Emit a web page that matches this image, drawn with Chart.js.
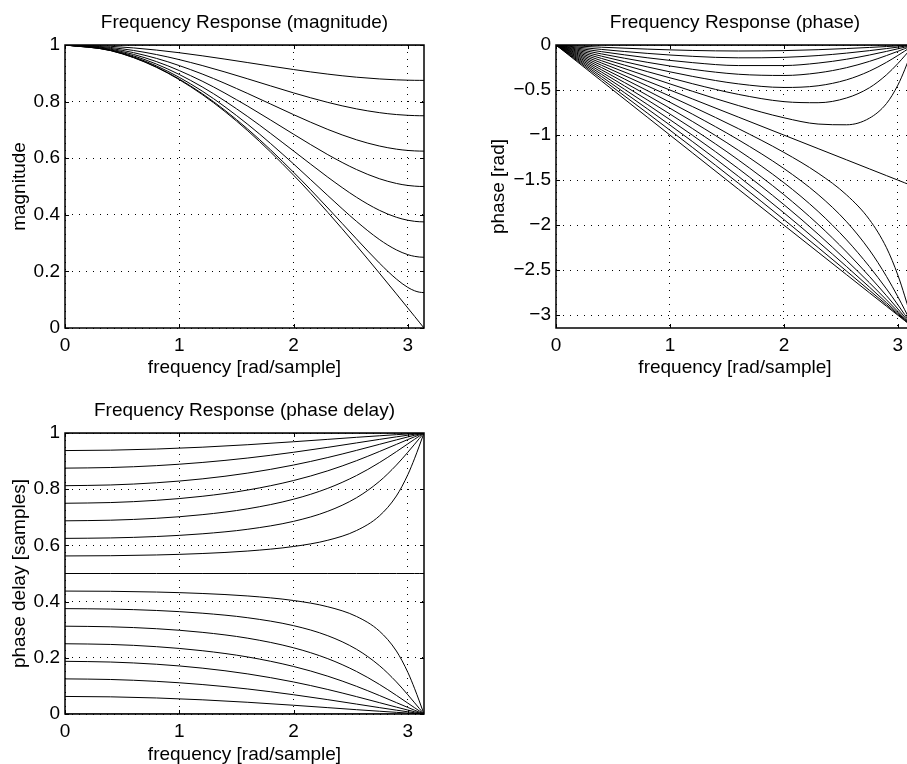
<!DOCTYPE html>
<html>
<head>
<meta charset="utf-8">
<script src="https://cdn.jsdelivr.net/npm/chart.js@4.4.1/dist/chart.umd.min.js"></script>
<style>
html, body { margin: 0; padding: 0; background: #fff; overflow: hidden; }
#wrap { position: relative; width: 907px; height: 764px; overflow: hidden; }
canvas { position: absolute; }
</style>
</head>
<body>
<div id="wrap">
  <canvas id="mag" width="450" height="385" style="left:0px;top:0px"></canvas>
  <canvas id="phase" width="470" height="385" style="left:470px;top:0px"></canvas>
  <canvas id="pdelay" width="450" height="385" style="left:0px;top:388px"></canvas>
</div>
<script>
// frequency samples (rad/sample)
const freq = [0, 0.4, 0.8, 1.2, 1.6, 2.0, 2.3, 2.55, 2.75, 2.9, 3.0, 3.06, 3.1, 3.1416];

const xTicks = [0, 1, 2, 3];
const magTicks = [0, 0.2, 0.4, 0.6, 0.8, 1];
const phaseTicks = [-3, -2.5, -2, -1.5, -1, -0.5, 0];
const delayTicks = [0, 0.2, 0.4, 0.6, 0.8, 1];

// magnitude curves, one per fractional delay
const magCurves = [
  [1, 1, 1, 1, 1, 1, 1, 1, 1, 1, 1, 1, 1, 1],
  [1, 0.9954, 0.9821, 0.9619, 0.9378, 0.9133, 0.8971, 0.8863, 0.8801, 0.8769, 0.8757, 0.8752, 0.8751, 0.875],
  [1, 0.9913, 0.9663, 0.9276, 0.8803, 0.8308, 0.7972, 0.7744, 0.7610, 0.7542, 0.7515, 0.7505, 0.7501, 0.75],
  [1, 0.9879, 0.9527, 0.8976, 0.8285, 0.7540, 0.7016, 0.6651, 0.6432, 0.6320, 0.6274, 0.6258, 0.6252, 0.625],
  [1, 0.9851, 0.9414, 0.8723, 0.7836, 0.6848, 0.6125, 0.5601, 0.5276, 0.5108, 0.5037, 0.5013, 0.5003, 0.5],
  [1, 0.9829, 0.9326, 0.8521, 0.7468, 0.6257, 0.5329, 0.4622, 0.4161, 0.3913, 0.3807, 0.3769, 0.3755, 0.375],
  [1, 0.9813, 0.9262, 0.8373, 0.7194, 0.5798, 0.4679, 0.3771, 0.3130, 0.2759, 0.2592, 0.2531, 0.2508, 0.25],
  [1, 0.9804, 0.9224, 0.8283, 0.7025, 0.5504, 0.4241, 0.3151, 0.2300, 0.1730, 0.1434, 0.1314, 0.1267, 0.125],
  [1, 0.9801, 0.9211, 0.8253, 0.6967, 0.5403, 0.4085, 0.2915, 0.1945, 0.1205, 0.0707, 0.0408, 0.0208, 0]
];

// phase curves (rad)
const phaseCurves = [
  [0, 0, 0, 0, 0, 0, 0, 0, 0, 0, 0, 0, 0, 0],
  [0, -0.0245, -0.0457, -0.0606, -0.0667, -0.0623, -0.0520, -0.0393, -0.0271, -0.0171, -0.0101, -0.0058, -0.0030, 0],
  [0, -0.0491, -0.0929, -0.1259, -0.1424, -0.1372, -0.1172, -0.0901, -0.0627, -0.0397, -0.0235, -0.0136, -0.0069, 0],
  [0, -0.0740, -0.1417, -0.1959, -0.2282, -0.2281, -0.2006, -0.1579, -0.1115, -0.0710, -0.0422, -0.0244, -0.0125, 0],
  [0, -0.0990, -0.1917, -0.2704, -0.3246, -0.3384, -0.3093, -0.2516, -0.1818, -0.1174, -0.0701, -0.0407, -0.0208, 0],
  [0, -0.1241, -0.2428, -0.3489, -0.4315, -0.4714, -0.4526, -0.3866, -0.2907, -0.1923, -0.1161, -0.0676, -0.0346, 0],
  [0, -0.1494, -0.2947, -0.4306, -0.5481, -0.6287, -0.6406, -0.5880, -0.4749, -0.3312, -0.2056, -0.1211, -0.0622, 0],
  [0, -0.1747, -0.3472, -0.5147, -0.6720, -0.8077, -0.8776, -0.8857, -0.8126, -0.6499, -0.4452, -0.2748, -0.1441, 0],
  [0, -0.2, -0.4, -0.6, -0.8, -1.0, -1.15, -1.275, -1.375, -1.45, -1.5, -1.53, -1.55, -1.5708],
  [0, -0.2253, -0.4528, -0.6853, -0.9280, -1.1923, -1.4224, -1.6643, -1.9374, -2.2501, -2.5548, -2.7852, -2.9559, -3.1416],
  [0, -0.2506, -0.5053, -0.7694, -1.0519, -1.3713, -1.6594, -1.9620, -2.2751, -2.5688, -2.7944, -2.9389, -3.0378, -3.1416],
  [0, -0.2759, -0.5572, -0.8511, -1.1685, -1.5286, -1.8474, -2.1634, -2.4593, -2.7077, -2.8839, -2.9924, -3.0654, -3.1416],
  [0, -0.3010, -0.6083, -0.9296, -1.2754, -1.6616, -1.9907, -2.2984, -2.5682, -2.7826, -2.9299, -3.0193, -3.0792, -3.1416],
  [0, -0.3260, -0.6583, -1.0041, -1.3718, -1.7719, -2.0994, -2.3921, -2.6385, -2.8290, -2.9578, -3.0356, -3.0875, -3.1416],
  [0, -0.3509, -0.7071, -1.0741, -1.4576, -1.8628, -2.1828, -2.4599, -2.6873, -2.8603, -2.9765, -3.0464, -3.0931, -3.1416],
  [0, -0.3755, -0.7543, -1.1394, -1.5333, -1.9377, -2.2480, -2.5107, -2.7229, -2.8829, -2.9899, -3.0542, -3.0970, -3.1416],
  [0, -0.4, -0.8, -1.2, -1.6, -2.0, -2.3, -2.55, -2.75, -2.9, -3.0, -3.06, -3.1, -3.1416]
];

// phase delay curves (samples)
const delayCurves = [
  [0, 0, 0, 0, 0, 0, 0, 0, 0, 0, 0, 0, 0, 0],
  [0.0625, 0.0611, 0.0571, 0.0505, 0.0417, 0.0311, 0.0226, 0.0154, 0.0099, 0.0059, 0.0034, 0.0019, 0.0010, 0],
  [0.125, 0.1228, 0.1162, 0.1049, 0.0890, 0.0686, 0.0510, 0.0354, 0.0228, 0.0137, 0.0078, 0.0044, 0.0022, 0],
  [0.1875, 0.1849, 0.1771, 0.1633, 0.1426, 0.1140, 0.0872, 0.0619, 0.0405, 0.0245, 0.0141, 0.0080, 0.0040, 0],
  [0.25, 0.2475, 0.2396, 0.2253, 0.2029, 0.1692, 0.1345, 0.0987, 0.0661, 0.0405, 0.0234, 0.0133, 0.0067, 0],
  [0.3125, 0.3103, 0.3035, 0.2907, 0.2697, 0.2357, 0.1968, 0.1516, 0.1057, 0.0663, 0.0387, 0.0221, 0.0112, 0],
  [0.375, 0.3734, 0.3684, 0.3588, 0.3425, 0.3144, 0.2785, 0.2306, 0.1727, 0.1142, 0.0685, 0.0396, 0.0201, 0],
  [0.4375, 0.4367, 0.4340, 0.4289, 0.4200, 0.4039, 0.3816, 0.3473, 0.2955, 0.2241, 0.1484, 0.0898, 0.0465, 0],
  [0.5, 0.5, 0.5, 0.5, 0.5, 0.5, 0.5, 0.5, 0.5, 0.5, 0.5, 0.5, 0.5, 0.5],
  [0.5625, 0.5633, 0.5660, 0.5711, 0.5800, 0.5961, 0.6184, 0.6527, 0.7045, 0.7759, 0.8516, 0.9102, 0.9535, 1],
  [0.625, 0.6266, 0.6316, 0.6412, 0.6575, 0.6856, 0.7215, 0.7694, 0.8273, 0.8858, 0.9315, 0.9604, 0.9799, 1],
  [0.6875, 0.6897, 0.6965, 0.7093, 0.7303, 0.7643, 0.8032, 0.8484, 0.8943, 0.9337, 0.9613, 0.9779, 0.9888, 1],
  [0.75, 0.7525, 0.7604, 0.7747, 0.7971, 0.8308, 0.8655, 0.9013, 0.9339, 0.9595, 0.9766, 0.9867, 0.9933, 1],
  [0.8125, 0.8151, 0.8229, 0.8367, 0.8574, 0.8860, 0.9128, 0.9381, 0.9595, 0.9755, 0.9859, 0.9920, 0.9960, 1],
  [0.875, 0.8772, 0.8838, 0.8951, 0.9110, 0.9314, 0.9490, 0.9646, 0.9772, 0.9863, 0.9922, 0.9956, 0.9978, 1],
  [0.9375, 0.9389, 0.9429, 0.9495, 0.9583, 0.9689, 0.9774, 0.9846, 0.9901, 0.9941, 0.9966, 0.9981, 0.9990, 1],
  [1, 1, 1, 1, 1, 1, 1, 1, 1, 1, 1, 1, 1, 1]
];

const FONT = { family: '"Liberation Sans", Arial, Helvetica, sans-serif', size: 19, weight: 'normal' };
Chart.defaults.color = '#000';

// box round the axes plus the small inward tick marks
const framePlugin = {
  id: 'frame',
  afterDatasetsDraw(chart) {
    const { ctx, chartArea: a, scales } = chart;
    const len = 4;
    ctx.save();
    ctx.strokeStyle = '#000';
    ctx.lineWidth = 1;
    ctx.beginPath();
    scales.x.ticks.forEach(t => {
      const px = Math.round(scales.x.getPixelForValue(t.value)) + 0.5;
      ctx.moveTo(px, a.bottom); ctx.lineTo(px, a.bottom - len);
      ctx.moveTo(px, a.top); ctx.lineTo(px, a.top + len);
    });
    scales.y.ticks.forEach(t => {
      const py = Math.round(scales.y.getPixelForValue(t.value)) + 0.5;
      ctx.moveTo(a.left, py); ctx.lineTo(a.left + len, py);
      ctx.moveTo(a.right, py); ctx.lineTo(a.right - len, py);
    });
    ctx.stroke();
    ctx.lineWidth = 1.5;
    ctx.strokeRect(a.left, a.top, a.right - a.left, a.bottom - a.top);
    ctx.restore();
  }
};

function minusFmt(v) {
  return v < 0 ? '\u2212' + String(Math.abs(v)) : String(v);
}

function makeChart(id, p) {
  const datasets = p.curves.map(arr => ({
    data: arr.map((y, i) => ({ x: freq[i], y: y })),
    borderColor: '#000',
    borderWidth: 1,
    pointRadius: 0,
    fill: false,
    cubicInterpolationMode: 'monotone'
  }));
  return new Chart(document.getElementById(id), {
    type: 'line',
    data: { datasets: datasets },
    options: {
      responsive: false,
      animation: false,
      devicePixelRatio: 1,
      layout: { padding: { left: 0, right: p.padRight, top: 0, bottom: 0 } },
      plugins: {
        legend: { display: false },
        tooltip: { enabled: false },
        title: {
          display: true, text: p.title, color: '#000', font: FONT,
          fullSize: false,
          padding: { top: 11.6, bottom: 10.6 }
        }
      },
      scales: {
        x: {
          type: 'linear', min: 0, max: Math.PI,
          afterBuildTicks: s => { s.ticks = xTicks.map(v => ({ value: v })); },
          afterFit: s => { s.height = p.xAxisH; },
          ticks: { color: '#000', font: FONT, padding: 6, maxRotation: 0 },
          grid: { color: '#000', lineWidth: 1, drawTicks: false },
          border: { display: false, dash: [1, 6] },
          title: {
            display: true, text: 'frequency [rad/sample]', color: '#000', font: FONT,
            padding: { top: 0, bottom: p.xTitlePad }
          }
        },
        y: {
          type: 'linear', min: p.yMin, max: p.yMax,
          afterBuildTicks: s => { s.ticks = p.yTicks.map(v => ({ value: v })); },
          afterFit: s => { s.width = p.yAxisW; },
          ticks: { color: '#000', font: FONT, padding: 5, callback: v => minusFmt(v) },
          grid: { color: '#000', lineWidth: 1, drawTicks: false },
          border: { display: false, dash: [1, 6] },
          title: {
            display: true, text: p.yTitle, color: '#000', font: FONT,
            padding: { top: p.yTitlePad, bottom: 0 }
          }
        }
      }
    },
    plugins: [framePlugin]
  });
}

makeChart('mag', {
  title: 'Frequency Response (magnitude)', yTitle: 'magnitude',
  curves: magCurves, yTicks: magTicks, yMin: 0, yMax: 1,
  padRight: 26, yAxisW: 65, xAxisH: 57, xTitlePad: 5.6, yTitlePad: 8.6
});

makeChart('phase', {
  title: 'Frequency Response (phase)', yTitle: 'phase [rad]',
  curves: phaseCurves, yTicks: phaseTicks, yMin: -Math.PI, yMax: 0,
  padRight: 26, yAxisW: 86, xAxisH: 57, xTitlePad: 5.6, yTitlePad: 17.6
});

makeChart('pdelay', {
  title: 'Frequency Response (phase delay)', yTitle: 'phase delay [samples]',
  curves: delayCurves, yTicks: delayTicks, yMin: 0, yMax: 1,
  padRight: 26, yAxisW: 65, xAxisH: 59, xTitlePad: 6.6, yTitlePad: 8.6
});
</script>
</body>
</html>
